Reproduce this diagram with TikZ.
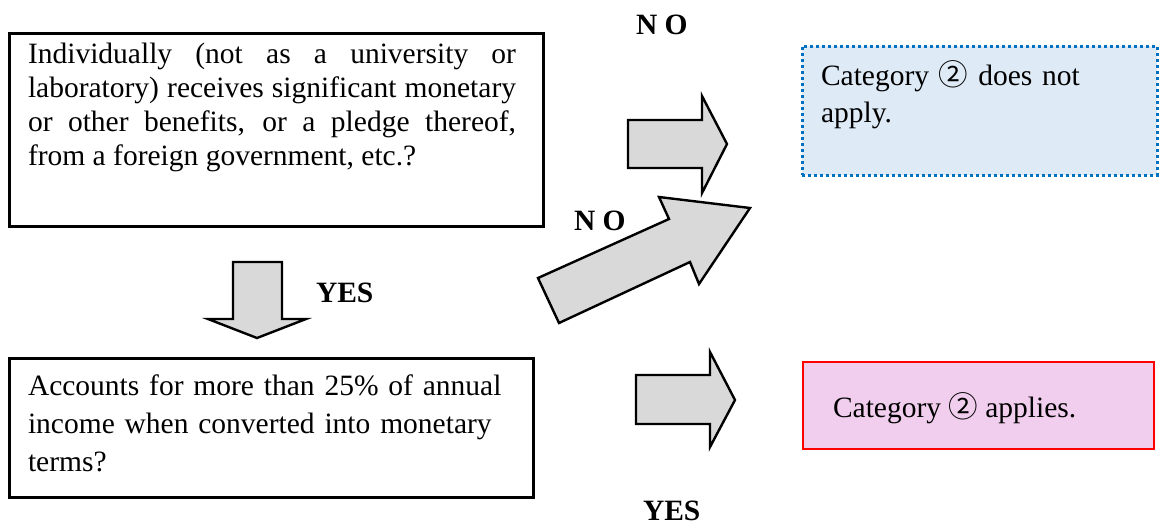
\documentclass[tikz,border=0pt]{standalone}
\usepackage{fontspec}
\setmainfont{Liberation Serif}
\newfontfamily\cjk{Noto Sans CJK JP}
\definecolor{arrowgray}{HTML}{D9D9D9}
\definecolor{nofill}{HTML}{DEEBF7}
\definecolor{noline}{HTML}{0070C0}
\definecolor{yesfill}{HTML}{F2CEEE}
\definecolor{yesline}{HTML}{FF0000}
\tikzset{
  qbox/.style={draw=black, line width=3pt, fill=white, anchor=north west, inner sep=0pt, outer sep=0pt},
  nobox/.style={draw=noline, fill=nofill, line width=3pt, dash pattern=on 3pt off 3pt, anchor=north west, inner sep=0pt, outer sep=0pt},
  yesbox/.style={draw=yesline, fill=yesfill, line width=1.8pt, anchor=north west, inner sep=0pt, outer sep=0pt},
  txt/.style={inner sep=0pt, outer sep=0pt, anchor=base west, font=\rmfamily\fontsize{29.5}{34}\selectfont},
  lbl/.style={inner sep=0pt, outer sep=0pt, anchor=base west, font=\rmfamily\fontsize{29.5}{34}\selectfont\bfseries},
  barrow/.style={draw=black, fill=arrowgray, line width=2.4pt, line join=miter}
}
\begin{document}
\begin{tikzpicture}[x=1pt, y=-1pt]
\useasboundingbox (0,0) rectangle (1159,525);
% boxes
\node[qbox, minimum width=534pt, minimum height=193pt] (q1) at (9,33) {};
\node[qbox, minimum width=524pt, minimum height=139pt] (q2) at (9,358) {};
\node[nobox, minimum width=355pt, minimum height=129pt] (no) at (802,46) {};
\node[yesbox, minimum width=351pt, minimum height=87pt] (yes) at (803,362) {};
% texts
\node[txt, text width=488pt, align=justify] (q1text) at (28,63)
  {Individually (not as a university or\linebreak laboratory) receives significant monetary\linebreak or other benefits, or a pledge thereof,\linebreak from a foreign government, etc.?};
\node[txt, text width=500pt, align=left, font=\rmfamily\fontsize{29.5}{38}\selectfont] (q2text) at (28,395)
  {Accounts for more than 25\% of annual\\income when converted into monetary\\terms?};
\node[txt, text width=330pt, align=left, font=\rmfamily\fontsize{29.5}{37}\selectfont] (notext) at (821,85)
  {Category {\cjk ②} does not\\apply.};
\node[txt] (yestext) at (833,417) {Category {\cjk ②} applies.};
% labels
\node[lbl] (no1) at (636,34) {N O};
\node[lbl] (no2) at (574,230) {N O};
\node[lbl] (yes1) at (316,302) {YES};
\node[lbl] (yes2) at (643,520) {YES};
% block arrows
\draw[barrow] (628,120) -- (702,120) -- (702,96) -- (727,144) -- (702,193) -- (702,168) -- (628,168) -- cycle;
\draw[barrow] (538,278) -- (669,219) -- (659,197) -- (750,208) -- (699,284) -- (690,262) -- (559,323) -- cycle;
\draw[barrow] (233,262) -- (282,262) -- (282,319) -- (306,319) -- (257,338) -- (208,319) -- (233,319) -- cycle;
\draw[barrow] (636,375) -- (710,375) -- (710,352) -- (735,400) -- (710,447) -- (710,424) -- (636,424) -- cycle;
\end{tikzpicture}
\end{document}
